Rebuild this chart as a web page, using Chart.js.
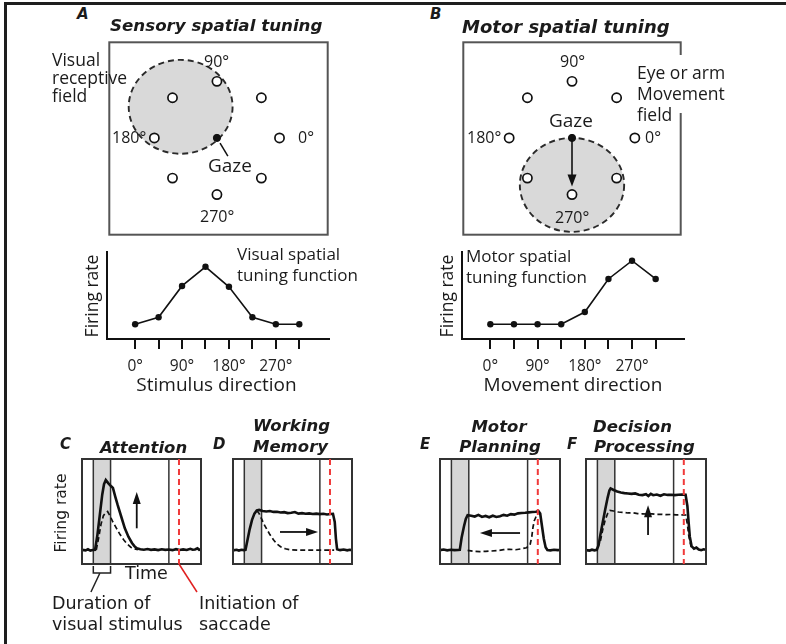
<!DOCTYPE html>
<html lang="en">
<head>
<meta charset="UTF-8">
<title>Sensory and motor spatial tuning</title>
<script src="https://cdn.jsdelivr.net/npm/chart.js@4.4.1/dist/chart.umd.min.js"></script>
<style>
  body { margin: 0; background: #fff; }
  #page { position: relative; width: 786px; height: 644px; overflow: hidden; }
  .frame { position: absolute; left: 4px; top: 2px; width: 779px; height: 660px;
           border-left: 3px solid #1e1e1e; border-top: 3px solid #1e1e1e; }
  canvas { position: absolute; }
  .t { position: absolute; white-space: nowrap; line-height: 1; color: #1b1b1b; }
  .os { font-family: 'Open Sans', sans-serif; }
  .dj { font-family: 'DejaVu Sans', sans-serif; }
  .bi { font-family: 'DejaVu Sans', sans-serif; font-weight: bold; font-style: italic; }
  .rot { transform: translate(-50%, -50%) rotate(-90deg); }
  .mid { transform: translateX(-50%); }
  .cover { position: absolute; background: #fff; }
</style>
</head>
<body>
<div id="page">
  <div class="frame"></div>

  <canvas id="diagA" width="231" height="205" style="left:103px;top:36px"></canvas>
  <canvas id="diagB" width="230" height="205" style="left:457px;top:36px"></canvas>
  <canvas id="tuneA" width="275" height="160" style="left:70px;top:245px"></canvas>
  <canvas id="tuneB" width="275" height="160" style="left:425px;top:245px"></canvas>
  <canvas id="panelC" width="125" height="142" style="left:79px;top:456px"></canvas>
  <canvas id="panelD" width="125" height="111" style="left:230px;top:456px"></canvas>
  <canvas id="panelE" width="126" height="111" style="left:437px;top:456px"></canvas>
  <canvas id="panelF" width="126" height="111" style="left:583px;top:456px"></canvas>

  <div class="cover" style="left:676px;top:55px;width:16px;height:58px"></div>

  <!-- A -->
  <div class="t bi" style="left:77px;top:6.5px;font-size:15px">A</div>
  <div class="t bi" style="left:110px;top:17.4px;font-size:16.7px">Sensory spatial tuning</div>
  <div class="t os" style="left:52px;top:50.5px;font-size:17.5px">Visual</div>
  <div class="t os" style="left:52px;top:68.5px;font-size:17.5px">receptive</div>
  <div class="t os" style="left:52px;top:86.5px;font-size:17.5px">field</div>
  <div class="t os" style="left:204px;top:52.8px;font-size:16px">90°</div>
  <div class="t os" style="left:112px;top:129.1px;font-size:16px">180°</div>
  <div class="t os" style="left:298px;top:129.1px;font-size:16px">0°</div>
  <div class="t os" style="left:208px;top:155.8px;font-size:19px">Gaze</div>
  <div class="t os" style="left:200px;top:207.5px;font-size:16px">270°</div>
  <div class="t os" style="left:237px;top:244.9px;font-size:17px">Visual spatial</div>
  <div class="t os" style="left:237px;top:266.4px;font-size:17px">tuning function</div>
  <div class="t os mid" style="left:216.5px;top:374.8px;font-size:19px">Stimulus direction</div>
  <div class="t os rot" style="left:91.5px;top:295.5px;font-size:17.5px">Firing rate</div>

  <!-- B -->
  <div class="t bi" style="left:430px;top:6.5px;font-size:15px">B</div>
  <div class="t bi" style="left:462px;top:17.8px;font-size:18px">Motor spatial tuning</div>
  <div class="t os" style="left:560px;top:52.8px;font-size:16px">90°</div>
  <div class="t os" style="left:549px;top:111.4px;font-size:19px">Gaze</div>
  <div class="t os" style="left:467px;top:129.1px;font-size:16px">180°</div>
  <div class="t os" style="left:645px;top:129.1px;font-size:16px">0°</div>
  <div class="t os" style="left:555px;top:208.5px;font-size:16px">270°</div>
  <div class="t os" style="left:637px;top:63.5px;font-size:17.5px">Eye or arm</div>
  <div class="t os" style="left:637px;top:84.5px;font-size:17.5px">Movement</div>
  <div class="t os" style="left:637px;top:105.5px;font-size:17.5px">field</div>
  <div class="t os" style="left:466px;top:246.6px;font-size:17px">Motor spatial</div>
  <div class="t os" style="left:466px;top:268.2px;font-size:17px">tuning function</div>
  <div class="t os mid" style="left:573px;top:374.8px;font-size:19px">Movement direction</div>
  <div class="t os rot" style="left:447px;top:295.5px;font-size:17.5px">Firing rate</div>

  <!-- C-F -->
  <div class="t bi" style="left:60px;top:437.3px;font-size:15px">C</div>
  <div class="t bi" style="left:100px;top:440.3px;font-size:16.5px">Attention</div>
  <div class="t bi" style="left:213px;top:437.3px;font-size:15px">D</div>
  <div class="t bi" style="left:253px;top:417.7px;font-size:16.5px">Working</div>
  <div class="t bi" style="left:253px;top:439.3px;font-size:16.5px">Memory</div>
  <div class="t bi" style="left:420px;top:437.3px;font-size:15px">E</div>
  <div class="t bi mid" style="left:499px;top:418.7px;font-size:16.5px">Motor</div>
  <div class="t bi mid" style="left:500px;top:439px;font-size:16.5px">Planning</div>
  <div class="t bi" style="left:567px;top:437.3px;font-size:15px">F</div>
  <div class="t bi" style="left:593px;top:418.7px;font-size:16.5px">Decision</div>
  <div class="t bi" style="left:594px;top:439px;font-size:16.5px">Processing</div>
  <div class="t dj rot" style="left:61.5px;top:512.5px;font-size:15.5px">Firing rate</div>
  <div class="t dj" style="left:125px;top:565.2px;font-size:17.5px">Time</div>
  <div class="t dj" style="left:52px;top:595.2px;font-size:17.5px">Duration of</div>
  <div class="t dj" style="left:52px;top:615.9px;font-size:17.5px">visual stimulus</div>
  <div class="t dj" style="left:199px;top:595.2px;font-size:17.5px">Initiation of</div>
  <div class="t dj" style="left:199px;top:615.9px;font-size:17.5px">saccade</div>
</div>

<script>
Chart.defaults.font.family = "'Open Sans', sans-serif";
Chart.defaults.color = '#222';

// tuning curves
const directions = [0, 45, 90, 135, 180, 225, 270, 315];
const tickDegrees = [0, 90, 180, 270];
const visualRate = [1.7, 2.5, 6.1, 8.3, 6.0, 2.5, 1.7, 1.7];
const motorRate = [1.7, 1.7, 1.7, 1.7, 3.1, 6.9, 9.0, 6.9];

// target layout around gaze (deg of visual angle)
const targetX = [10, 7.1, 0, -7.1, -10, -7.1, 0, 7.1];
const targetY = [0, 7.1, 10, 7.1, 0, -7.1, -10, -7.1];
const receptiveField = [-5.8, 5.5, 8.3];   // centre x, centre y, radius
const movementField = [0, -8.3, 8.3];
const gazeLeader = [[0.5, -0.9], [1.75, -3.2]];
const saccadeVector = [[0, 0], [0, -8.6]];

// task epochs (% of trial): stimulus on, stimulus off, go, saccade
const epochs = [9.5, 24, 73, 81.5];

// firing rate traces [time, rate]
const attnSolid = [[0,13.5],[3,13],[5,14],[7,12.8],[9,13.4],[11,13.5],[13,28],[15,47],[17,66],[18.5,76],[20,80],
  [22,77],[24.5,74],[26,72.5],[28,64],[30,56],[33,45],[36,34],[39,26],[42,20],[44,17],[46,15],[49,14],[52,13.6],
  [55,14.2],[58,13.5],[61,13.9],[64,13.2],[67,14],[70,13.5],[73,13.8],[76,13.2],[79,14.1],[82,13.4],[85,13.9],
  [88,13.3],[91,14.5],[93,13.6],[95,13.8],[97,15],[98.5,13.5],[100,13.8]];
const attnDashed = [[12,13.5],[14,25],[16,38],[18,46],[20,49],[21.5,50],[23.5,46],[26,40],[29,34],[32,28],[35,23],
  [38,19],[41,16],[44,14.5],[47,13.6]];
const memSolid = [[0,13],[3,13.6],[5,12.8],[7,13.5],[9,13.2],[10.5,13.5],[12,22],[14,33],[16,42],[18,48],[20,51],
  [22,51.5],[25,50.5],[28,50],[31,50.4],[34,49.6],[37,49.8],[40,49],[43,49.4],[46,48.5],[49,48.8],[52,49.5],[55,48],
  [58,48.4],[61,47.8],[64,48.2],[67,47.6],[70,48],[73,47.5],[76,47.8],[79,47.2],[82,47.6],[84,47.8],[85.5,40],
  [86.5,24],[87.5,14],[90,13.2],[93,13.8],[96,13],[98,13.6],[100,13.2]];
const memDashed = [[20,51],[22,48],[24,43],[26,38],[28,34],[31,28],[34,23],[37,19],[40,16.5],[44,14.5],[48,13.6],
  [55,13.2],[65,13.3],[75,13.2],[85,13.3]];
const planSolid = [[0,13.2],[3,13.8],[6,13],[9,13.5],[12,13.2],[15,13.4],[16.5,13.5],[18,25],[20,36],[21.5,43],
  [23,46.5],[26,46],[29,45.2],[32,46.8],[35,44.8],[38,45.8],[41,44.5],[44,46],[47,44.8],[50,45.5],[53,46.8],[56,46],
  [59,47.5],[62,47],[65,48.2],[68,48.6],[71,48.8],[74,49.2],[77,49.5],[80,49.8],[82,50.5],[83.5,48],[85,36],
  [86.5,24],[88,16],[89.5,13.4],[92,13],[95,13.5],[98,13.2],[100,13.4]];
const planDashed = [[23,13],[28,12.2],[33,11.8],[38,12],[43,12.4],[48,12.8],[53,13.6],[58,14],[63,13.6],[68,14.5],
  [72,15.5],[75,18],[76.5,26],[77.5,35],[78.5,41],[80,45],[81.5,48.5]];
const decSolid = [[0,13.2],[3,12.8],[5,13.6],[7,13],[9,13.5],[10.5,18],[12,28],[14,40],[16,52],[18,63],[19.5,70],
  [20.5,72],[23,70.5],[26,69],[29,68],[32,67.5],[35,67.2],[38,66.8],[41,67.2],[44,66],[47,65.6],[50,66.5],[52,64.8],
  [54,66.8],[56,65.5],[59,66.2],[62,65],[65,66.4],[68,65.8],[71,66],[74,65.6],[77,66],[80,66.2],[83,66],[84.5,55],
  [85.5,40],[86.5,26],[88,17],[90,14.5],[92,15.6],[94,13.8],[96,13.2],[98,14],[100,13.5]];
const decDashed = [[12,22],[14,33],[16,42],[18,48],[20,51],[23,50.5],[27,49.5],[31,49.2],[35,48.6],[39,48.8],[43,48],
  [47,47.8],[51,47.6],[55,47.8],[59,47.2],[63,47.4],[67,47],[71,47.2],[75,46.8],[79,46.9],[83,46.7],[84.5,38],
  [85.5,28],[86.5,22],[87.5,17],[88.5,15]];

// arrows [x1, y1, x2, y2]
const attnArrow = [46, 34, 46, 68.5];
const memArrow = [39.5, 30.5, 71.5, 30.5];
const planArrow = [66.7, 29.5, 33.3, 29.5];
const decArrow = [51.7, 27.6, 51.7, 56];

const toXY = arr => arr.map(p => ({x: p[0], y: p[1]}));

function drawArrow(ctx, x1, y1, x2, y2, len, half) {
  const a = Math.atan2(y2 - y1, x2 - x1), c = Math.cos(a), s = Math.sin(a);
  ctx.beginPath();
  ctx.moveTo(x1, y1);
  ctx.lineTo(x2 - len * 0.8 * c, y2 - len * 0.8 * s);
  ctx.stroke();
  ctx.beginPath();
  ctx.moveTo(x2, y2);
  ctx.lineTo(x2 - len * c + half * s, y2 - len * s - half * c);
  ctx.lineTo(x2 - len * c - half * s, y2 - len * s + half * c);
  ctx.closePath();
  ctx.fill();
}

function fieldPlugin(field, arrow) {
  return {
    id: 'field',
    beforeDatasetsDraw(chart) {
      const {ctx, scales: {x, y}} = chart;
      const cx = x.getPixelForValue(field[0]), cy = y.getPixelForValue(field[1]);
      const rx = Math.abs(x.getPixelForValue(field[0] + field[2]) - cx);
      const ry = Math.abs(y.getPixelForValue(field[1] + field[2]) - cy);
      ctx.save();
      ctx.beginPath();
      ctx.ellipse(cx, cy, rx, ry, 0, 0, Math.PI * 2);
      ctx.fillStyle = '#d9d9d9';
      ctx.fill();
      ctx.setLineDash([6, 4]);
      ctx.lineWidth = 1.9;
      ctx.strokeStyle = '#2a2a2a';
      ctx.stroke();
      ctx.restore();
    },
    afterDatasetsDraw(chart) {
      const {ctx, chartArea: a, scales: {x, y}} = chart;
      ctx.save();
      ctx.strokeStyle = '#555';
      ctx.lineWidth = 2;
      ctx.strokeRect(a.left, a.top, a.right - a.left, a.bottom - a.top);
      if (arrow) {
        ctx.strokeStyle = '#111';
        ctx.fillStyle = '#111';
        ctx.lineWidth = 1.6;
        drawArrow(ctx, x.getPixelForValue(arrow[0][0]), y.getPixelForValue(arrow[0][1]),
          x.getPixelForValue(arrow[1][0]), y.getPixelForValue(arrow[1][1]), 12, 4.5);
      }
      ctx.restore();
    }
  };
}

function fieldChart(id, field, xMin, xMax, leader, arrow) {
  const targets = targetX.map((v, i) => ({x: v, y: targetY[i]}));
  const sets = [
    {data: [{x: 0, y: 0}], pointRadius: 3.6, pointBackgroundColor: '#111', pointBorderColor: '#111'},
    {data: targets, pointRadius: 4.6, pointBackgroundColor: '#fff', pointBorderColor: '#111', pointBorderWidth: 1.7}
  ];
  if (leader) {
    sets.push({data: toXY(leader), showLine: true, borderColor: '#111', borderWidth: 1.5, pointRadius: 0});
  }
  new Chart(document.getElementById(id), {
    type: 'scatter',
    data: {datasets: sets},
    options: {
      animation: false, responsive: false, events: [],
      layout: {padding: 4},
      scales: {
        x: {type: 'linear', min: xMin, max: xMax, display: false},
        y: {min: -17.1, max: 16.9, display: false}
      },
      plugins: {legend: {display: false}, tooltip: {enabled: false}}
    },
    plugins: [fieldPlugin(field, arrow)]
  });
}

function tuningChart(id, rates, xMin, xMax) {
  new Chart(document.getElementById(id), {
    type: 'line',
    data: {
      datasets: [{
        data: directions.map((d, i) => ({x: d, y: rates[i]})),
        borderColor: '#111', borderWidth: 1.6, tension: 0,
        pointRadius: 3.2, pointBackgroundColor: '#111', pointBorderWidth: 0
      }]
    },
    options: {
      animation: false, responsive: false, events: [],
      layout: {padding: {top: 7, right: 16, left: 0, bottom: 0}},
      scales: {
        x: {
          type: 'linear', min: xMin, max: xMax,
          afterBuildTicks: s => { s.ticks = directions.map(v => ({value: v})); },
          afterFit: s => { s.height = 66; },
          grid: {drawOnChartArea: false, drawTicks: true, tickLength: 10, color: '#111', lineWidth: 2},
          border: {display: true, color: '#111', width: 2},
          ticks: {
            padding: 8, font: {size: 15.5}, color: '#222', maxRotation: 0, autoSkip: false,
            callback: v => tickDegrees.includes(v) ? v + '°' : ''
          }
        },
        y: {
          min: 0, max: 10,
          afterFit: s => { s.width = 37; },
          grid: {display: false},
          ticks: {display: false},
          border: {display: true, color: '#111', width: 2}
        }
      },
      plugins: {legend: {display: false}, tooltip: {enabled: false}}
    }
  });
}

function epochPlugin(arrow, withKey) {
  return {
    id: 'epochs',
    beforeDatasetsDraw(chart) {
      const {ctx, chartArea: a, scales: {x}} = chart;
      const px = epochs.map(v => x.getPixelForValue(v));
      ctx.save();
      ctx.fillStyle = '#d6d6d6';
      ctx.fillRect(px[0], a.top, px[1] - px[0], a.bottom - a.top);
      ctx.strokeStyle = '#333';
      ctx.lineWidth = 1.5;
      [px[0], px[1], px[2]].forEach(p => {
        ctx.beginPath(); ctx.moveTo(p, a.top); ctx.lineTo(p, a.bottom); ctx.stroke();
      });
      ctx.restore();
    },
    afterDatasetsDraw(chart) {
      const {ctx, chartArea: a, scales: {x, y}} = chart;
      const px = epochs.map(v => x.getPixelForValue(v));
      ctx.save();
      ctx.strokeStyle = '#333';
      ctx.lineWidth = 2;
      ctx.strokeRect(a.left, a.top, a.right - a.left, a.bottom - a.top);
      ctx.strokeStyle = '#111';
      ctx.fillStyle = '#111';
      ctx.lineWidth = 1.8;
      drawArrow(ctx, x.getPixelForValue(arrow[0]), y.getPixelForValue(arrow[1]),
        x.getPixelForValue(arrow[2]), y.getPixelForValue(arrow[3]), 12, 4);
      ctx.strokeStyle = '#f03a3a';
      ctx.lineWidth = 2;
      ctx.setLineDash([6, 4]);
      ctx.beginPath(); ctx.moveTo(px[3], a.top); ctx.lineTo(px[3], a.bottom); ctx.stroke();
      ctx.setLineDash([]);
      if (withKey) {
        const b = a.bottom, mid = (px[0] + px[1]) / 2;
        ctx.strokeStyle = '#222';
        ctx.lineWidth = 1.5;
        ctx.beginPath();
        ctx.moveTo(px[0], b + 2); ctx.lineTo(px[0], b + 9); ctx.lineTo(px[1], b + 9); ctx.lineTo(px[1], b + 2);
        ctx.moveTo(mid - 2, b + 9); ctx.lineTo(mid - 11, b + 28);
        ctx.stroke();
        ctx.strokeStyle = '#e02020';
        ctx.beginPath(); ctx.moveTo(px[3], b); ctx.lineTo(px[3] + 18, b + 28); ctx.stroke();
      }
      ctx.restore();
    }
  };
}

function timeChart(id, solid, dashed, arrow, withKey) {
  new Chart(document.getElementById(id), {
    type: 'line',
    data: {
      datasets: [
        {data: toXY(solid), borderColor: '#111', borderWidth: 2.6, pointRadius: 0, tension: 0},
        {data: toXY(dashed), borderColor: '#111', borderWidth: 1.7, borderDash: [5, 3], pointRadius: 0, tension: 0}
      ]
    },
    options: {
      animation: false, responsive: false, events: [],
      layout: {padding: {left: 3, right: 3, top: 3, bottom: withKey ? 34 : 3}},
      scales: {
        x: {type: 'linear', min: 0, max: 100, display: false},
        y: {min: 0, max: 100, display: false}
      },
      plugins: {legend: {display: false}, tooltip: {enabled: false}}
    },
    plugins: [epochPlugin(arrow, withKey)]
  });
}

fieldChart('diagA', receptiveField, -17.2, 17.7, gazeLeader, null);
fieldChart('diagB', movementField, -17.3, 17.3, null, saccadeVector);
tuningChart('tuneA', visualRate, -54, 372);
tuningChart('tuneB', motorRate, -54, 369);
timeChart('panelC', attnSolid, attnDashed, attnArrow, true);
timeChart('panelD', memSolid, memDashed, memArrow, false);
timeChart('panelE', planSolid, planDashed, planArrow, false);
timeChart('panelF', decSolid, decDashed, decArrow, false);
</script>
</body>
</html>
